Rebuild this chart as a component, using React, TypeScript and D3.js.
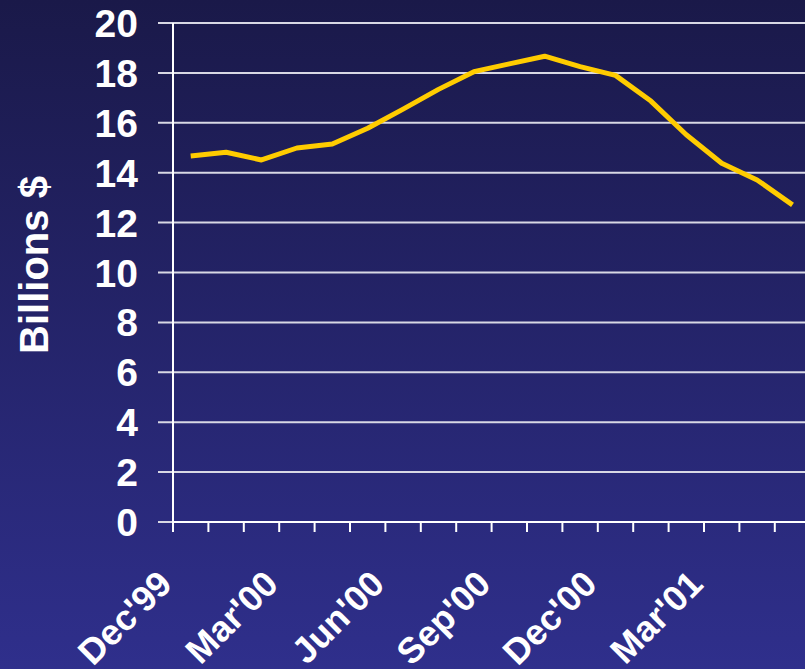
import React from "react";
import * as d3 from "d3";

const months = [
  "Dec'99", "Jan'00", "Feb'00", "Mar'00", "Apr'00", "May'00", "Jun'00", "Jul'00", "Aug'00",
  "Sep'00", "Oct'00", "Nov'00", "Dec'00", "Jan'01", "Feb'01", "Mar'01", "Apr'01", "May'01",
];
const values = [
  14.67, 14.82, 14.51, 14.99, 15.15, 15.78, 16.55, 17.34, 18.05,
  18.36, 18.67, 18.25, 17.9, 16.87, 15.52, 14.38, 13.71, 12.71,
];
const labeledMonths = ["Dec'99", "Mar'00", "Jun'00", "Sep'00", "Dec'00", "Mar'01"];
const yTicks = [0, 2, 4, 6, 8, 10, 12, 14, 16, 18, 20];

const W = 805;
const H = 669;
const left = 173;
const top = 23;
const bottom = 522;
const step = 35.4;

export default function App() {
  const x = d3.scaleBand<string>().domain(months).range([left, left + step * months.length]).padding(0);
  const y = d3.scaleLinear().domain([0, 20]).range([bottom, top]);
  const line = d3
    .line<number>()
    .x((_, i) => (x(months[i]) as number) + x.bandwidth() / 2)
    .y((d) => y(d));
  const font = "'Liberation Sans', Arial, sans-serif";
  return (
    <svg
      width={W}
      height={H}
      style={{ position: "absolute", left: 0, top: 0, display: "block" }}
      fontFamily={font}
    >
      <defs>
        <linearGradient id="bg" x1="0" y1="0" x2="0" y2="1">
          <stop offset="0%" stopColor="#1a1949" />
          <stop offset="100%" stopColor="#2f2f8c" />
        </linearGradient>
      </defs>
      <rect x={0} y={0} width={W} height={H} fill="url(#bg)" />
      {yTicks.map((t) => (
        <g key={t}>
          <line x1={left - 15} x2={W} y1={y(t)} y2={y(t)} stroke="#d8d8e4" strokeWidth={2} />
          <text
            x={138}
            y={y(t)}
            dy="0.36em"
            textAnchor="end"
            fill="#fff"
            fontWeight="bold"
            fontSize={39}
          >
            {t}
          </text>
        </g>
      ))}
      <line x1={left} x2={left} y1={top} y2={bottom} stroke="#fff" strokeWidth={2} />
      <line x1={left} x2={W} y1={bottom} y2={bottom} stroke="#fff" strokeWidth={2} />
      {months.map((m) => (
        <line
          key={m}
          x1={x(m) as number}
          x2={x(m) as number}
          y1={bottom}
          y2={bottom + 10}
          stroke="#fff"
          strokeWidth={2}
        />
      ))}
      {labeledMonths.map((m) => {
        const px = (x(m) as number) + 1;
        const py = 586;
        return (
          <text
            key={m}
            transform={`translate(${px},${py}) rotate(-45)`}
            textAnchor="end"
            fill="#fff"
            fontWeight="bold"
            fontSize={36}
          >
            {m}
          </text>
        );
      })}
      <text
        transform={`translate(48,265) rotate(-90)`}
        textAnchor="middle"
        fill="#fff"
        fontWeight="bold"
        fontSize={40}
      >
        Billions $
      </text>
      <path d={line(values) || ""} fill="none" stroke="#ffcc00" strokeWidth={5} strokeLinejoin="round" />
    </svg>
  );
}
